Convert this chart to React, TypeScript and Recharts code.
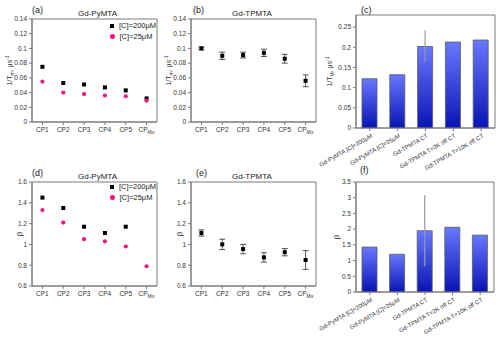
import React from 'react';
import { ComposedChart, BarChart, Bar, Line, XAxis, YAxis, ErrorBar, CartesianGrid } from 'recharts';

const FONT = '"Liberation Sans", Arial, sans-serif';
const AXIS = '#7a7a7a';
const TXT = '#333';
const PINK = '#f2147f';

// panels (a),(b),(d),(e)
const cps = ['CP1', 'CP2', 'CP3', 'CP4', 'CP5', 'CPMix'];
const pyT1High = [0.075, 0.053, 0.051, 0.047, 0.043, 0.032];
const pyT1Low = [0.055, 0.04, 0.038, 0.036, 0.035, 0.029];
const tpT1 = [0.1, 0.09, 0.091, 0.094, 0.086, 0.056];
const tpT1Err = [0.002, 0.005, 0.004, 0.005, 0.006, 0.008];
const pyBetaHigh = [1.45, 1.35, 1.17, 1.11, 1.17, null];
const pyBetaLow = [1.33, 1.21, 1.05, 1.03, 0.98, 0.79];
const tpBeta = [1.11, 1.0, 0.955, 0.875, 0.925, 0.85];
const tpBetaErr = [0.03, 0.05, 0.045, 0.045, 0.035, 0.09];

// panels (c),(f)
const samples = ['Gd-PyMTA [C]=200μM', 'Gd-PyMTA [C]=25μM', 'Gd-TPMTA CT', 'Gd-TPMTA T=2K off CT', 'Gd-TPMTA T=10K off CT'];
const barT1 = [0.122, 0.132, 0.202, 0.213, 0.218];
const barT1Err = [0, 0, 0.04, 0, 0];
const barBeta = [1.43, 1.2, 1.95, 2.06, 1.81];
const barBetaErr = [0, 0, 1.13, 0, 0];

const t1Ticks = [0, 0.02, 0.04, 0.06, 0.08, 0.1, 0.12, 0.14];
const betaTicks = [0.6, 0.8, 1, 1.2, 1.4, 1.6];
const barT1Ticks = [0, 0.05, 0.1, 0.15, 0.2, 0.25];
const barBetaTicks = [0, 0.5, 1, 1.5, 2, 2.5, 3, 3.5];

const pyT1Rows = cps.map((cp, i) => ({ cp, high: pyT1High[i], low: pyT1Low[i] }));
const tpT1Rows = cps.map((cp, i) => ({ cp, v: tpT1[i], err: tpT1Err[i] }));
const pyBetaRows = cps.map((cp, i) => ({ cp, high: pyBetaHigh[i], low: pyBetaLow[i] }));
const tpBetaRows = cps.map((cp, i) => ({ cp, v: tpBeta[i], err: tpBetaErr[i] }));
const barT1Rows = samples.map((s, i) => ({ s, v: barT1[i], err: barT1Err[i] }));
const barBetaRows = samples.map((s, i) => ({ s, v: barBeta[i], err: barBetaErr[i] }));

const tickStyle = { fontSize: 6.5, fill: TXT, fontFamily: FONT };

const CpTick = (props: any) => {
  const { x, y, payload } = props;
  const v = String(payload.value);
  return (
    <text x={x} y={y + 5} textAnchor="middle" fontSize={6.5} fill={TXT} fontFamily={FONT}>
      {v === 'CPMix' ? (
        <>CP<tspan fontSize={4.5} dy={2}>Mix</tspan></>
      ) : v}
    </text>
  );
};

const SampleTick = (props: any) => {
  const { x, y, payload } = props;
  const ax = x + 3;
  const ay = y + 4;
  return (
    <text x={ax} y={ay} transform={`rotate(-30, ${ax}, ${ay})`} textAnchor="end" fontSize={6} fill={TXT} fontFamily={FONT}>
      {payload.value}
    </text>
  );
};

const t1Label = (dx: number, sub: string) => (props: any) => {
  const vb = props.viewBox;
  const cx = vb.x + dx;
  const cy = vb.y + vb.height / 2;
  return (
    <text transform={`translate(${cx},${cy}) rotate(-90)`} textAnchor="middle" fontSize={7} fill={TXT} fontFamily={FONT}>
      1/T<tspan fontSize={5} dy={2}>{sub}</tspan><tspan dy={-2}>, μs</tspan><tspan fontSize={5} dy={-3}>-1</tspan>
    </text>
  );
};

const betaLabel = (dx: number) => (props: any) => {
  const vb = props.viewBox;
  const cx = vb.x + dx;
  const cy = vb.y + vb.height / 2;
  return (
    <text transform={`translate(${cx},${cy}) rotate(-90)`} textAnchor="middle" fontSize={8} fill={TXT} fontFamily={FONT}>
      β
    </text>
  );
};

const squareDot = (props: any) => {
  const { cx, cy, index } = props;
  if (cx == null || cy == null) return <g key={`s-${index}`} />;
  return <rect key={`s-${index}`} x={cx - 2} y={cy - 2} width={4} height={4} fill="#000" />;
};

const pinkDot = (props: any) => {
  const { cx, cy, index } = props;
  if (cx == null || cy == null) return <g key={`p-${index}`} />;
  return <circle key={`p-${index}`} cx={cx} cy={cy} r={2.1} fill={PINK} />;
};

// box around the plot area, taken from the chart's own offset
const frame = (
  <CartesianGrid
    stroke={AXIS}
    strokeWidth={1}
    horizontalCoordinatesGenerator={({ offset }: any) => [offset.top, offset.top + offset.height]}
    verticalCoordinatesGenerator={({ offset }: any) => [offset.left, offset.left + offset.width]}
  />
);

const Title = ({ left, top, children, size = 8 }: any) => (
  <div style={{ position: 'absolute', left, top, fontSize: size, color: '#222', fontFamily: FONT, whiteSpace: 'nowrap', lineHeight: 1 }}>
    {children}
  </div>
);

const LegendBox = ({ left, top }: { left: number; top: number }) => (
  <div style={{ position: 'absolute', left, top, fontFamily: FONT, fontSize: 7.5, color: '#222', lineHeight: 1 }}>
    <div style={{ display: 'flex', alignItems: 'center', height: 11 }}>
      <span style={{ width: 4, height: 4, background: '#000', display: 'inline-block', marginRight: 5 }} />
      [C]=200μM
    </div>
    <div style={{ display: 'flex', alignItems: 'center', height: 11 }}>
      <span style={{ width: 4.5, height: 4.5, background: PINK, borderRadius: '50%', display: 'inline-block', marginRight: 5 }} />
      [C]=25μM
    </div>
  </div>
);

const PyChart = ({ rows, domain, ticks, label, top }: any) => (
  <ComposedChart width={165} height={top === 0 ? 170 : 169} data={rows}
    margin={top === 0 ? { top: 19, right: 8, bottom: 28, left: 2 } : { top: 12, right: 8, bottom: 33, left: 2 }}>
    {frame}
    <XAxis dataKey="cp" type="category" scale="band" stroke={AXIS} tickSize={3} tick={<CpTick />} height={20} interval={0} />
    <YAxis domain={domain} ticks={ticks} type="number" stroke={AXIS} tickSize={3} tick={tickStyle} width={30} label={{ content: label }} allowDataOverflow />
    <Line dataKey="high" stroke="none" isAnimationActive={false} dot={squareDot} activeDot={false} legendType="none" />
    <Line dataKey="low" stroke="none" isAnimationActive={false} dot={pinkDot} activeDot={false} legendType="none" />
  </ComposedChart>
);

const TpChart = ({ rows, domain, ticks, label, top }: any) => (
  <ComposedChart width={165} height={top === 0 ? 170 : 169} data={rows}
    margin={top === 0 ? { top: 19, right: 9, bottom: 28, left: 1 } : { top: 12, right: 9, bottom: 33, left: 1 }}>
    {frame}
    <XAxis dataKey="cp" type="category" scale="band" stroke={AXIS} tickSize={3} tick={<CpTick />} height={20} interval={0} />
    <YAxis domain={domain} ticks={ticks} type="number" stroke={AXIS} tickSize={3} tick={tickStyle} width={30} label={{ content: label }} allowDataOverflow />
    <Line dataKey="v" stroke="none" isAnimationActive={false} dot={squareDot} activeDot={false} legendType="none">
      <ErrorBar dataKey="err" width={3} stroke="#111" strokeWidth={0.7} direction="y" />
    </Line>
  </ComposedChart>
);

const SampleChart = ({ rows, domain, ticks, label, top, gid }: any) => (
  <BarChart width={180} height={top === 0 ? 170 : 169} data={rows}
    margin={top === 0 ? { top: 15, right: 5, bottom: 2, left: 6 } : { top: 12, right: 6, bottom: 7, left: 6 }}>
    <defs>
      <linearGradient id={gid} x1="0" y1="0" x2="0" y2="1">
        <stop offset="0%" stopColor="#6878ff" />
        <stop offset="100%" stopColor="#0814b4" />
      </linearGradient>
    </defs>
    {frame}
    <XAxis dataKey="s" type="category" stroke={AXIS} tickSize={3} tick={<SampleTick />} height={40} interval={0} />
    <YAxis domain={domain} ticks={ticks} type="number" stroke={AXIS} tickSize={3} tick={tickStyle} width={30} label={{ content: label }} allowDataOverflow />
    <Bar dataKey="v" fill={`url(#${gid})`} stroke="#5a5a5a" strokeWidth={0.8} barSize={15} isAnimationActive={false} legendType="none">
      <ErrorBar dataKey="err" width={0} stroke="#9a9a9a" strokeWidth={1.2} direction="y" />
    </Bar>
  </BarChart>
);

export default function App() {
  return (
    <div style={{ position: 'absolute', left: 0, top: 0, width: 500, height: 339, background: '#fff', overflow: 'hidden' }}>
      <style>{'svg.recharts-surface { overflow: visible; }'}</style>
      <div style={{ position: 'absolute', left: 0, top: 0 }}>
        <PyChart rows={pyT1Rows} domain={[0, 0.14]} ticks={t1Ticks} label={t1Label(10, 'm')} top={0} />
      </div>
      <div style={{ position: 'absolute', left: 160, top: 0 }}>
        <TpChart rows={tpT1Rows} domain={[0, 0.14]} ticks={t1Ticks} label={t1Label(10, 'm')} top={0} />
      </div>
      <div style={{ position: 'absolute', left: 320, top: 0 }}>
        <SampleChart rows={barT1Rows} domain={[0, 0.28]} ticks={barT1Ticks} label={t1Label(6, 'M')} top={0} gid="gradC" />
      </div>
      <div style={{ position: 'absolute', left: 0, top: 170 }}>
        <PyChart rows={pyBetaRows} domain={[0.6, 1.6]} ticks={betaTicks} label={betaLabel(20)} top={170} />
      </div>
      <div style={{ position: 'absolute', left: 160, top: 170 }}>
        <TpChart rows={tpBetaRows} domain={[0.6, 1.6]} ticks={betaTicks} label={betaLabel(21)} top={170} />
      </div>
      <div style={{ position: 'absolute', left: 320, top: 170 }}>
        <SampleChart rows={barBetaRows} domain={[0, 3.5]} ticks={barBetaTicks} label={betaLabel(13)} top={170} gid="gradF" />
      </div>

      <Title left={32} top={6} size={9}>(a)</Title>
      <Title left={78} top={10}>Gd-PyMTA</Title>
      <Title left={193} top={6} size={9}>(b)</Title>
      <Title left={232} top={10}>Gd-TPMTA</Title>
      <Title left={361} top={6} size={9}>(c)</Title>
      <Title left={32} top={169} size={9}>(d)</Title>
      <Title left={78} top={173}>Gd-PyMTA</Title>
      <Title left={196} top={169} size={9}>(e)</Title>
      <Title left={232} top={173}>Gd-TPMTA</Title>
      <Title left={360} top={166} size={9}>(f)</Title>

      <LegendBox left={110} top={20} />
      <LegendBox left={110} top={181} />
    </div>
  );
}
